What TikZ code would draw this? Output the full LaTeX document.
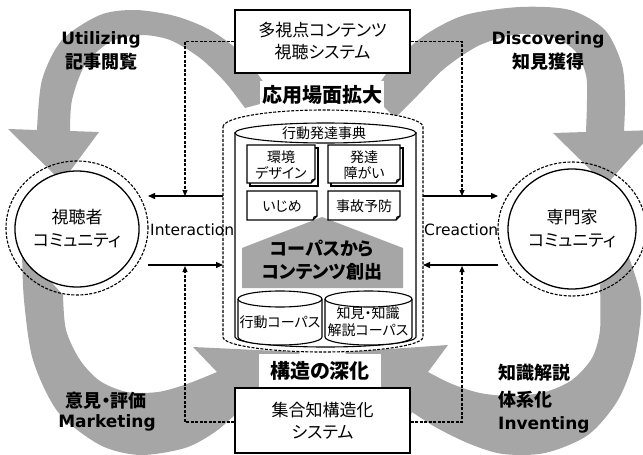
\documentclass[tikz,border=0pt]{standalone}
\usepackage{fontspec}
\setmainfont{DejaVu Sans}
\newfontfamily\jp{Noto Sans CJK JP}[RawFeature=+palt]
\usetikzlibrary{shapes.geometric,arrows.meta}
\definecolor{bandgray}{RGB}{166,166,166}
\begin{document}
\begin{tikzpicture}[x=1pt,y=-1pt,
  band/.style={fill=bandgray},
  boxst/.style={draw, line width=1.2pt, fill=white, align=center},
  docline/.style={line width=1.1pt},
  cylline/.style={line width=1.1pt},
  dashst/.style={line width=1.1pt, dash pattern=on 3pt off 1.5pt},
  jpa/.style={font=\jp\fontsize{17}{22}\selectfont, align=center, inner sep=0pt},
  jps/.style={font=\jp\fontsize{14}{16.5}\selectfont, align=center, inner sep=0pt},
  jpb/.style={font=\jp\bfseries\fontsize{18}{23}\selectfont, align=center, inner sep=0pt},
  jpbig/.style={font=\jp\bfseries\fontsize{20}{24}\selectfont, align=center},
  latb/.style={font=\bfseries\fontsize{17}{20}\selectfont, inner sep=0pt},
  latr/.style={font=\fontsize{15.5}{18}\selectfont, inner sep=0pt},
  solidarrow/.style={line width=1.3pt, -{Triangle[length=7pt,width=6pt]}},
  dasharrow/.style={dashst, -{Triangle[length=6pt,width=5pt]}}
]
\useasboundingbox (0,0) rectangle (643,455);

% ---- gray bands ----
\fill[band] plot[smooth] coordinates {(275,100) (262,80) (240,52) (210,30) (175,16) (135,10) (100,15) (62,40) (42,80) (37,130)}
  -- (8,129) -- (62,182) -- (99,132) -- (70,131)
  -- plot[smooth] coordinates {(70,131) (72,100) (85,65) (110,42) (140,35) (170,40) (200,58) (225,82) (245,108)} -- cycle;
\fill[band] plot[smooth] coordinates {(372,95) (395,62) (425,35) (465,15) (520,7) (570,10) (605,30) (622,65) (625,100) (624,131)}
  -- (655,130) -- (606,185) -- (553,133) -- (586,132)
  -- plot[smooth] coordinates {(586,132) (587,100) (586,75) (576,52) (555,38) (520,34) (480,45) (445,68) (418,95) (395,118)} -- cycle;
\fill[band] plot[smooth] coordinates {(22,250) (24,300) (33,360) (58,412) (100,445) (140,455) (185,448) (215,432) (238,412)}
  -- (250,452) -- (300,352) -- (193,347) -- (217,372)
  -- plot[smooth] coordinates {(217,372) (187,384) (158,392) (127,392) (100,381) (80,360) (66,330) (63,295)} -- cycle;
\fill[band] plot[smooth] coordinates {(628,255) (641,300) (635,355) (618,400) (588,435) (545,453) (503,454) (470,444) (437,428) (412,412)}
  -- (398,452) -- (345,352) -- (448,345) -- (428,372)
  -- plot[smooth] coordinates {(428,372) (452,384) (480,393) (512,396) (545,392) (572,380) (592,358) (600,330) (600,285)} -- cycle;

% ---- outer dashed cylinder ----
\draw[dashst, fill=white]
  (223,127) arc[start angle=180, end angle=360, x radius=100, y radius=17]
  -- (423,337) arc[start angle=0, end angle=180, x radius=100, y radius=15] -- cycle;
% ---- inner cylinder ----
\draw[cylline, fill=white] (235,133) -- (235,337) arc[start angle=180, end angle=0, x radius=90.5, y radius=10] -- (416,133) -- cycle;
\draw[cylline, fill=white] (325.5,133) ellipse[x radius=90.5, y radius=10];
\node[jps] (dict) at (324,133) {行動発達事典};

% ---- gray pentagon ----
\fill[bandgray] (242,248) -- (322,217) -- (403,248) -- (403,288) -- (242,288) -- cycle;

% ---- document boxes ----
\draw[docline, fill=white] (250,148) rectangle (318,186);
\draw[docline, fill=white] (247,145) -- (315,145) -- (315,179) -- (311,183) -- (247,183) -- cycle;
\draw[docline] (311,183) -- (312,180) -- (315,179);
\node[jps] (d1) at (281,165) {環境\\デザイン};
\draw[docline, fill=white] (331,148) rectangle (403,186);
\draw[docline, fill=white] (328,145) -- (400,145) -- (400,179) -- (396,183) -- (328,183) -- cycle;
\draw[docline] (396,183) -- (397,180) -- (400,179);
\node[jps] (d2) at (364,165) {発達\\障がい};
\draw[docline, fill=white] (247,191) -- (317,191) -- (317,216) -- (313,220) -- (247,220) -- cycle;
\draw[docline] (313,220) -- (314,217) -- (317,216);
\node[jps] (d3) at (282,206) {いじめ};
\draw[docline, fill=white] (328,191) -- (400,191) -- (400,216) -- (396,220) -- (328,220) -- cycle;
\draw[docline] (396,220) -- (397,217) -- (400,216);
\node[jps] (d4) at (364,206) {事故予防};

\node[jpb] (corpus) at (322,260.5) {コーパスから\\コンテンツ創出};

% ---- small cylinders ----
\draw[cylline, fill=white] (238,299) -- (238,337) arc[start angle=180, end angle=0, x radius=42, y radius=8] -- (322,299);
\draw[cylline, fill=white] (280,299) ellipse[x radius=42, y radius=8];
\node[jps] (c1) at (280,322) {行動コーパス};
\draw[cylline, fill=white] (325,299) -- (325,337) arc[start angle=180, end angle=0, x radius=43.5, y radius=8] -- (412,299);
\draw[cylline, fill=white] (368.5,299) ellipse[x radius=43.5, y radius=8];
\node[jps] (c2) at (368,321.5) {知見・知識\\解説コーパス};

% ---- bold labels with white ground ----
\node[jpbig, fill=white, inner xsep=2pt, inner ysep=0pt, minimum height=28pt] (app) at (322,95) {応用場面拡大};
\node[jpbig, fill=white, inner sep=0pt, minimum width=122pt, minimum height=34pt] (deep) at (320,371) {構造の深化};

% ---- system boxes ----
\node[boxst, jpa, minimum width=175pt, minimum height=63pt] (topbox) at (322.5,41.5) {多視点コンテンツ\\視聴システム};
\node[boxst, jpa, minimum width=175pt, minimum height=65pt] (botbox) at (322.5,420.5) {集合知構造化\\システム};

% ---- communities ----
\node[draw, ellipse, dashst, minimum width=142pt, minimum height=134pt] (lcd) at (77,228) {};
\node[draw, ellipse, line width=1.3pt, fill=white, minimum width=124pt, minimum height=116pt, jpa, font=\jp\fontsize{17}{23}\selectfont] (lc) at (77,229) {視聴者\\コミュニティ};
\node[draw, ellipse, dashst, minimum width=148pt, minimum height=134pt] (rcd) at (572,229) {};
\node[draw, ellipse, line width=1.3pt, fill=white, minimum width=128pt, minimum height=120pt, jpa, font=\jp\fontsize{17}{23}\selectfont] (rc) at (572,229) {専門家\\コミュニティ};

% ---- corner labels ----
\node[latb] (util) at (101,40) {Utilizing};
\node[jpb] (util2) at (101,62) {記事閲覧};
\node[latb] (disc) at (548,40) {Discovering};
\node[jpb] (disc2) at (548,62) {知見獲得};
\node[jpb] (mark2) at (106,401) {意見・評価};
\node[latb] (mark) at (107,423) {Marketing};
\node[jpb, anchor=west] (inv1) at (498,373) {知識解説};
\node[jpb, anchor=west] (inv2) at (498,400) {体系化};
\node[latb, anchor=west] (inv3) at (498,425) {Inventing};

\node[latr, anchor=west] (inter) at (150,230) {Interaction};
\node[latr, anchor=west] (creac) at (424,230) {Creaction};

% ---- connector end points ----
\coordinate (cylL1) at (223,196);
\coordinate (lcT) at (148,196);
\coordinate (lcB) at (148,265);
\coordinate (cylL2) at (223,265);
\coordinate (cylR1) at (423,196);
\coordinate (rcT) at (498,196);
\coordinate (rcB) at (498,265);
\coordinate (cylR2) at (423,265);
\coordinate (dL1) at (185,196);
\coordinate (dR1) at (462,196);
\coordinate (dL2) at (185,266);
\coordinate (dR2) at (462,266);

\draw[solidarrow] (cylL1) -- (lcT);
\draw[solidarrow] (lcB) -- (cylL2);
\draw[solidarrow] (cylR1) -- (rcT);
\draw[solidarrow] (rcB) -- (cylR2);

\draw[dasharrow] (topbox.west) -| (dL1);
\draw[dasharrow] (topbox.east) -| (dR1);
\draw[dasharrow] ([yshift=-1.5pt]botbox.west) -| (dL2);
\draw[dasharrow] ([yshift=-1.5pt]botbox.east) -| (dR2);
\end{tikzpicture}
\end{document}
